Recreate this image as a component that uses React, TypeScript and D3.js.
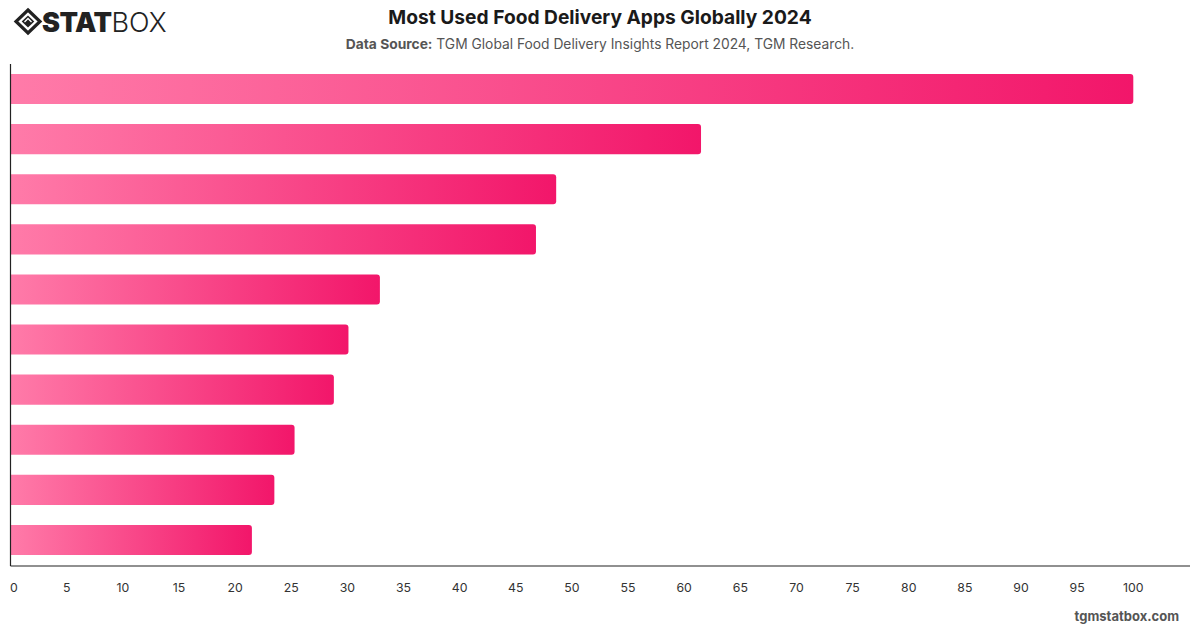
import React, { useEffect, useRef } from 'react';
import * as d3 from 'd3';

// ranked apps, top to bottom
const ranks = ['1', '2', '3', '4', '5', '6', '7', '8', '9', '10'];
const usage = [100, 61.5, 48.6, 46.8, 32.9, 30.1, 28.8, 25.3, 23.5, 21.5];
const xTicks = d3.range(0, 101, 5);

const title = 'Most Used Food Delivery Apps Globally 2024';
const sourceLabel = 'Data Source:';
const sourceText = ' TGM Global Food Delivery Insights Report 2024, TGM Research.';

const W = 1200;
const H = 628;
const FONT = 'Inter, "Liberation Sans", Arial, sans-serif';

export default function App() {
  const svgRef = useRef<SVGSVGElement>(null);

  useEffect(() => {
    if (!svgRef.current) return;
    const svg = d3.select(svgRef.current);
    svg.selectAll('*').remove();

    const margin = { top: 64, right: 10, bottom: 63, left: 10.5 };
    const innerW = 1133.3 - margin.left; // value 100 lands here
    const innerH = H - margin.top - margin.bottom;

    const x = d3.scaleLinear().domain([0, 100]).range([margin.left, margin.left + innerW]);
    const y = d3.scaleBand().domain(ranks).range([margin.top, margin.top + innerH]).paddingInner(0.4).paddingOuter(0.2);

    svg.append('rect').attr('width', W).attr('height', H).attr('fill', '#fff');

    const defs = svg.append('defs');
    const grad = defs.append('linearGradient')
      .attr('id', 'barGrad')
      .attr('x1', '0%').attr('x2', '100%').attr('y1', '0%').attr('y2', '0%');
    grad.append('stop').attr('offset', '0%').attr('stop-color', '#ff7ba9');
    grad.append('stop').attr('offset', '100%').attr('stop-color', '#f2166a');

    // bars: rounded on the right end only
    const r = 3;
    svg.append('g')
      .selectAll('path')
      .data(usage)
      .join('path')
      .attr('fill', 'url(#barGrad)')
      .attr('d', (d, i) => {
        const x0 = x(0);
        const x1 = x(d);
        const y0 = y(ranks[i])!;
        const h = y.bandwidth();
        return `M${x0},${y0}H${x1 - r}Q${x1},${y0} ${x1},${y0 + r}V${y0 + h - r}Q${x1},${y0 + h} ${x1 - r},${y0 + h}H${x0}Z`;
      });

    // axes lines
    const axisY = margin.top + innerH + 1;
    svg.append('line')
      .attr('x1', margin.left).attr('x2', margin.left)
      .attr('y1', margin.top).attr('y2', axisY)
      .attr('stroke', '#222').attr('stroke-width', 1.2);
    svg.append('line')
      .attr('x1', margin.left).attr('x2', W - 10)
      .attr('y1', axisY).attr('y2', axisY)
      .attr('stroke', '#222').attr('stroke-width', 1.2);

    // x tick labels
    svg.append('g')
      .selectAll('text')
      .data(xTicks)
      .join('text')
      .attr('x', d => (d === 0 ? x(d) + 3.5 : x(d)))
      .attr('y', 592)
      .attr('text-anchor', 'middle')
      .attr('font-family', FONT)
      .attr('font-size', 12.3)
      .attr('fill', '#333')
      .text(d => String(d));

    // header
    svg.append('text')
      .attr('x', 600).attr('y', 24)
      .attr('text-anchor', 'middle')
      .attr('font-family', FONT)
      .attr('font-size', 19.2)
      .attr('font-weight', 700)
      .attr('fill', '#1a1a1a')
      .text(title);

    const sub = svg.append('text')
      .attr('x', 600).attr('y', 49)
      .attr('text-anchor', 'middle')
      .attr('font-family', FONT)
      .attr('font-size', 13.8)
      .attr('fill', '#555');
    sub.append('tspan').attr('font-weight', 700).text(sourceLabel);
    sub.append('tspan').text(sourceText);

    // logo
    const logo = svg.append('g').attr('transform', 'translate(28,21.5)');
    logo.append('path')
      .attr('d', 'M0,-11.5L12,0L0,11.5L-12,0Z')
      .attr('fill', 'none').attr('stroke', '#222').attr('stroke-width', 3.2);
    logo.append('path')
      .attr('d', 'M0,-6L6.3,0L0,6L-6.3,0Z')
      .attr('fill', '#222');
    logo.append('path')
      .attr('d', 'M-3.5,0.5L0,-3L3.5,0.5')
      .attr('fill', 'none').attr('stroke', '#fff').attr('stroke-width', 1.3);

    const brand = svg.append('text')
      .attr('x', 42).attr('y', 32)
      .attr('font-family', FONT)
      .attr('font-size', 27)
      .attr('fill', '#222');
    brand.append('tspan').attr('font-weight', 900).attr('letter-spacing', -0.5).text('STAT');
    brand.append('tspan').attr('font-weight', 300).attr('dx', 0).text('BOX');

    // footer
    svg.append('text')
      .attr('x', 1179).attr('y', 621)
      .attr('text-anchor', 'end')
      .attr('font-family', FONT)
      .attr('font-size', 13)
      .attr('font-weight', 700)
      .attr('fill', '#555')
      .text('tgmstatbox.com');
  }, []);

  return (
    <svg
      ref={svgRef}
      width={W}
      height={H}
      style={{ position: 'absolute', left: 0, top: 0, display: 'block' }}
    />
  );
}
